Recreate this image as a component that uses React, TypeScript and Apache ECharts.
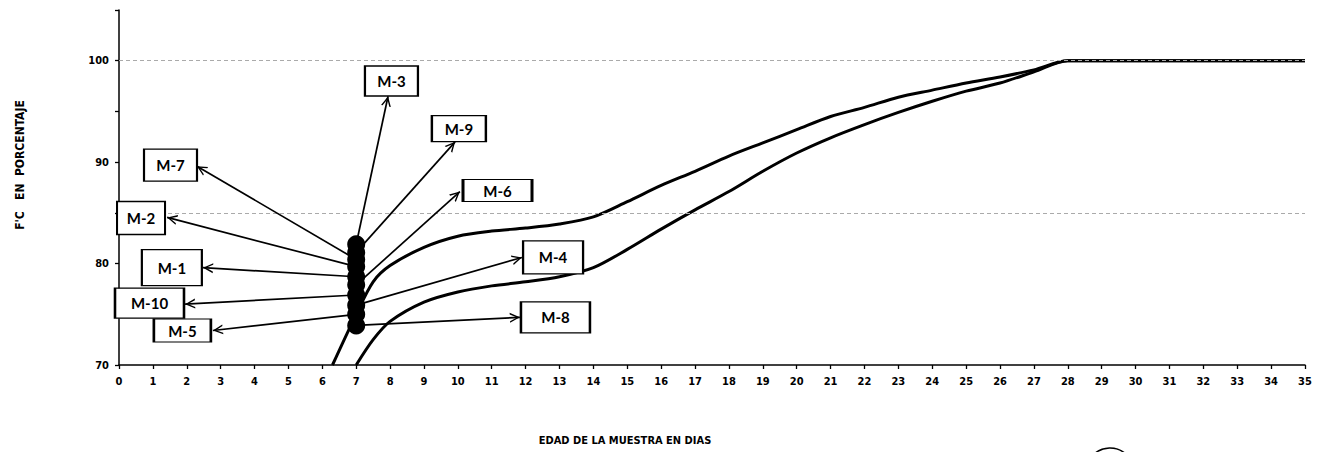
import React, { useEffect, useRef } from "react";
import * as echarts from "echarts";

// ---- data ----
const UPPER_DAYS = [6.3, 7, 7.5, 8, 9, 10, 11, 12, 13, 14, 15, 16, 17, 18, 19, 20, 21, 22, 23, 24, 25, 26, 27, 28, 35];
const UPPER_FC = [70, 75, 78.2, 79.8, 81.6, 82.7, 83.2, 83.5, 83.9, 84.6, 86.1, 87.7, 89.1, 90.6, 91.9, 93.2, 94.5, 95.4, 96.4, 97.1, 97.8, 98.4, 99.1, 100, 100];
const LOWER_DAYS = [7, 7.5, 8, 9, 10, 11, 12, 13, 14, 15, 16, 17, 18, 19, 20, 21, 22, 23, 24, 25, 26, 27, 28, 35];
const LOWER_FC = [70, 72.5, 74.3, 76.2, 77.2, 77.8, 78.2, 78.7, 79.6, 81.4, 83.4, 85.3, 87.1, 89.1, 90.9, 92.4, 93.7, 94.9, 96.0, 97.0, 97.8, 98.9, 100, 100];

const SAMPLE_AGE = 7;
const SAMPLE_NAMES = ["M-3", "M-9", "M-7", "M-2", "M-1", "M-6", "M-10", "M-4", "M-5", "M-8"];
const SAMPLE_FC = [81.9, 81.1, 80.4, 79.7, 78.7, 77.9, 76.9, 75.9, 75.0, 73.9];

// annotation anchors in data coordinates
const ARROW_TIP_X = [7.94, 9.92, 2.30, 1.42, 2.48, 10.06, 1.95, 11.89, 2.77, 11.83];
const ARROW_TIP_Y = [96.5, 92.0, 89.6, 84.55, 79.6, 87.1, 76.0, 80.6, 73.4, 74.7];
const BOX_X = [8.04, 10.03, 1.52, 0.65, 1.56, 11.17, 0.90, 12.81, 1.87, 12.88];
const BOX_Y = [98.0, 93.3, 89.7, 84.5, 79.6, 87.2, 76.1, 80.6, 73.4, 74.7];

const GUIDE_LINES = [100, 85];

// ---- styles ----
const BOX_SIZE: number[][] = [[53, 30], [54, 26], [53, 32], [48, 33], [60, 36], [69, 22], [69, 30], [60, 33], [57, 23], [69, 31]];
const AXIS_FONT = "'Liberation Sans Narrow', 'DejaVu Sans Condensed', 'Arial Narrow', sans-serif";
const ARROW = "path://M5,0 L5.01,0 L5,0.01 Z M5,10 L10,20 L8.4,20 L5,13 L1.6,20 L0,20 Z";

export default function App() {
  const ref = useRef<HTMLDivElement>(null);
  useEffect(() => {
    if (!ref.current) return;
    const chart = echarts.init(ref.current, null, { renderer: "svg" });
    const upper = UPPER_DAYS.map((d, i) => [d, UPPER_FC[i]]);
    const lower = LOWER_DAYS.map((d, i) => [d, LOWER_FC[i]]);
    const dots = SAMPLE_FC.map((v) => [SAMPLE_AGE, v]);
    const arrows = SAMPLE_FC.map((v, i) => [
      { coord: [SAMPLE_AGE, v] },
      { coord: [ARROW_TIP_X[i], ARROW_TIP_Y[i]] },
    ]);
    const boxes = SAMPLE_NAMES.map((n, i) => ({
      name: n,
      value: [BOX_X[i], BOX_Y[i]],
      symbolSize: BOX_SIZE[i],
    }));
    chart.setOption({
      animation: false,
      grid: { left: 119, right: 20, top: 10, bottom: 87 },
      xAxis: {
        type: "value",
        min: 0,
        max: 35,
        interval: 1,
        axisLine: { show: true, lineStyle: { color: "#000", width: 1.5 } },
        axisTick: { show: true, length: 4, lineStyle: { color: "#000", width: 1.3 } },
        axisLabel: { color: "#000", fontWeight: "bold", fontSize: 11, fontFamily: AXIS_FONT, margin: 11 },
        splitLine: { show: false },
      },
      yAxis: {
        type: "value",
        min: 70,
        max: 105,
        interval: 5,
        axisLine: { show: true, lineStyle: { color: "#000", width: 1.5 } },
        axisTick: { show: true, length: 4, lineStyle: { color: "#000", width: 1.3 } },
        axisLabel: {
          color: "#000",
          fontWeight: "bold",
          fontSize: 11,
          fontFamily: AXIS_FONT,
          margin: 10,
          formatter: (v: number) => (v % 10 === 0 && v <= 100 ? String(v) : ""),
        },
        splitLine: { show: false },
      },
      graphic: [
        {
          type: "text",
          x: 20,
          y: 165,
          rotation: Math.PI / 2,
          style: {
            text: "F'C   EN  PORCENTAJE",
            fill: "#000",
            font: `bold 12px ${AXIS_FONT}`,
            textAlign: "center",
            textVerticalAlign: "middle",
          },
        },
        {
          type: "text",
          x: 625,
          y: 440,
          style: {
            text: "EDAD DE LA MUESTRA EN DIAS",
            fill: "#000",
            font: `bold 11px ${AXIS_FONT}`,
            textAlign: "center",
            textVerticalAlign: "middle",
          },
        },
        {
          type: "arc",
          shape: { cx: 1110, cy: 472, r: 24, startAngle: -2.4, endAngle: -0.8, clockwise: true },
          style: { stroke: "#000", lineWidth: 1.5, fill: null },
        },
      ],
      series: [
        {
          type: "line",
          data: upper,
          smooth: 0.3,
          symbol: "none",
          lineStyle: { color: "#000", width: 3 },
          markLine: {
            silent: true,
            symbol: "none",
            label: { show: false },
            lineStyle: { color: "#aaa", type: [4, 3], width: 1 },
            data: GUIDE_LINES.map((v) => ({ yAxis: v })),
          },
          z: 3,
        },
        {
          type: "line",
          data: lower,
          smooth: 0.3,
          symbol: "none",
          lineStyle: { color: "#000", width: 3 },
          z: 3,
        },
        {
          type: "scatter",
          data: dots,
          symbol: "circle",
          symbolSize: 18,
          itemStyle: { color: "#000", opacity: 1 },
          z: 4,
          markLine: {
            silent: true,
            symbol: ["none", ARROW],
            symbolSize: [10, 20],
            label: { show: false },
            lineStyle: { color: "#000", type: "solid", width: 1.7 },
            data: arrows,
          },
        },
        {
          type: "scatter",
          data: boxes,
          symbol: "rect",
          itemStyle: { color: "#fff", borderColor: "#000", borderWidth: 1.7, opacity: 1 },
          label: {
            show: true,
            position: "inside",
            formatter: (p: any) => p.name,
            color: "#000",
            fontWeight: "bold",
            fontSize: 15,
            fontFamily: "Lato, 'Open Sans', sans-serif",
          },
          z: 6,
        },
      ],
    });
    return () => chart.dispose();
  }, []);
  return <div ref={ref} style={{ position: "absolute", left: 0, top: 0, width: 1325, height: 452 }} />;
}
